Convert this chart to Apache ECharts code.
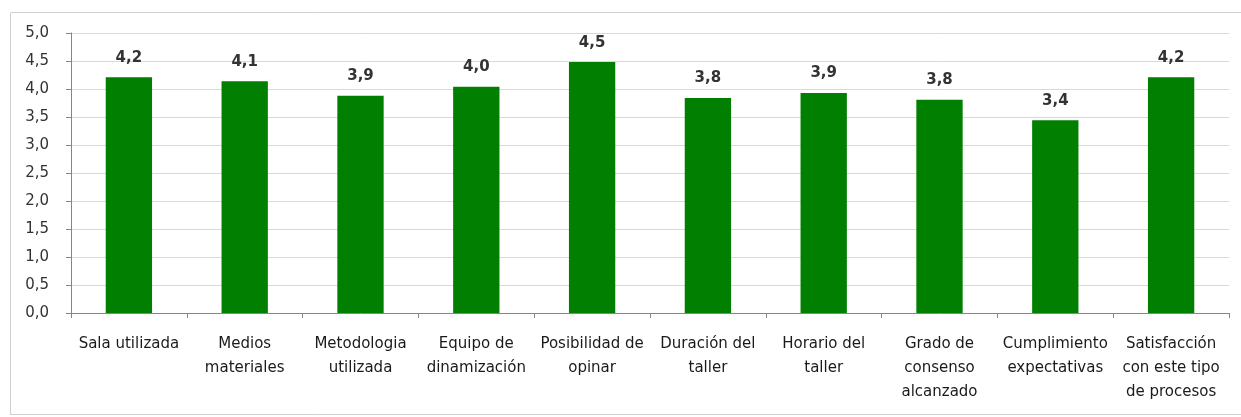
<!DOCTYPE html>
<html>
<head>
<meta charset="utf-8">
<script src="https://cdn.jsdelivr.net/npm/echarts@6/dist/echarts.min.js"></script>
<style>
html,body{margin:0;padding:0;background:#fff;}
#c{width:1241px;height:417px;}
</style>
</head>
<body>
<div id="c"></div>
<script>
const categories = [
  "Sala utilizada",
  "Medios\nmateriales",
  "Metodologia\nutilizada",
  "Equipo de\ndinamización",
  "Posibilidad de\nopinar",
  "Duración del\ntaller",
  "Horario del\ntaller",
  "Grado de\nconsenso\nalcanzado",
  "Cumplimiento\nexpectativas",
  "Satisfacción\ncon este tipo\nde procesos"
];
const values = [4.21, 4.14, 3.88, 4.04, 4.48, 3.84, 3.93, 3.81, 3.44, 4.21];
const yMin = 0, yMax = 5, yStep = 0.5;

const fmt = v => v.toFixed(1).replace('.', ',');
const FONT = '"DejaVu Sans", sans-serif';
const chart = echarts.init(document.getElementById('c'), null, {renderer: 'canvas'});
chart.setOption({
  animation: false,
  backgroundColor: '#ffffff',
  textStyle: {fontFamily: FONT},
  graphic: [{
    type: 'rect', left: 8, top: 10, shape: {width: 1250, height: 402},
    style: {fill: 'none', stroke: '#d0d0d0', lineWidth: 1}, silent: true, z: -1
  }],
  grid: {left: 71, right: 12, top: 33, bottom: 104},
  xAxis: {
    type: 'category',
    data: categories,
    axisLine: {lineStyle: {color: '#868686'}},
    axisTick: {show: true, alignWithLabel: false, length: 5, lineStyle: {color: '#868686'}},
    axisLabel: {interval: 0, color: '#1a1a1a', fontSize: 15, lineHeight: 24, margin: 19, fontFamily: FONT}
  },
  yAxis: {
    type: 'value', min: yMin, max: yMax, interval: yStep,
    axisLine: {show: true, lineStyle: {color: '#868686'}},
    axisTick: {show: true, length: 5, lineStyle: {color: '#868686'}},
    splitLine: {lineStyle: {color: '#d9d9d9'}},
    axisLabel: {formatter: v => fmt(v), color: '#333', fontSize: 15, margin: 22, fontFamily: FONT}
  },
  series: [{
    type: 'bar',
    data: values,
    barWidth: '40%',
    itemStyle: {color: '#007f00'},
    label: {
      show: true, position: 'top', distance: 12,
      formatter: p => fmt(p.value),
      color: '#333', fontSize: 15, fontWeight: 'bold', fontFamily: FONT
    }
  }]
});
</script>
</body>
</html>
